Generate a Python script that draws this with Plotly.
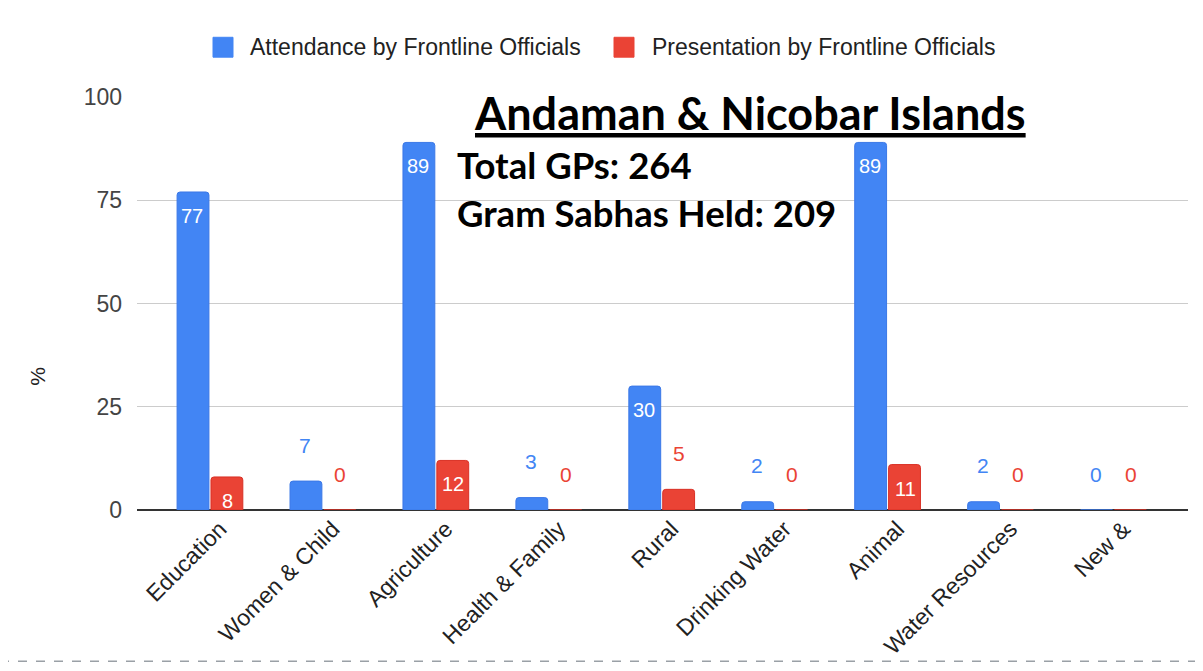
import plotly.graph_objects as go

categories = ["Education", "Women & Child", "Agriculture", "Health & Family", "Rural",
              "Drinking Water", "Animal", "Water Resources", "New &"]
attendance = [77, 7, 89, 3, 30, 2, 89, 2, 0]
presentation = [8, 0, 12, 0, 5, 0, 11, 0, 0]
series_names = ["Attendance by Frontline Officials", "Presentation by Frontline Officials"]
y_ticks = [0, 25, 50, 75, 100]
title_text = "Andaman & Nicobar Islands"
info_lines = ["Total GPs: 264", "Gram Sabhas Held: 209"]

BLUE = "#4285F4"
RED = "#EA4335"
FONT = "Liberation Sans, Arial, sans-serif"
OFF = 8  # page body margin
W, H = 1203 - OFF, 671 - OFF
ML, MT = 137 - OFF, 97 - OFF
PW, PH = 1051, 415
MR = W - ML - PW
MB = H - MT - PH


def px(xp):  # page x -> paper x
    return (xp - OFF - ML) / PW


def py(yp):  # page y -> paper y
    return (MT + PH - (yp - OFF)) / PH


fig = go.Figure()
fig.add_trace(go.Bar(x=categories, y=attendance, name=series_names[0],
                     marker=dict(color=BLUE, line=dict(color="#3b78e7", width=1), cornerradius=3)))
fig.add_trace(go.Bar(x=categories, y=presentation, name=series_names[1],
                     marker=dict(color=RED, line=dict(color="#d93025", width=1), cornerradius=3)))

annotations = []
for vals, color, shift in [(attendance, BLUE, -17.5), (presentation, RED, 17.5)]:
    for c, v in zip(categories, vals):
        if v >= 8:
            annotations.append(dict(x=c, y=v, xref="x", yref="y", text=str(v), showarrow=False,
                                    xshift=shift, yshift=-24,
                                    font=dict(family=FONT, size=20, color="white")))
        else:
            annotations.append(dict(x=c, y=v, xref="x", yref="y", text=str(v), showarrow=False,
                                    xshift=shift, yshift=36,
                                    font=dict(family=FONT, size=21, color=color)))

annotations.append(dict(x=px(472), y=py(113), xref="paper", yref="paper",
                        xanchor="left", yanchor="middle", showarrow=False,
                        text="<b><u>" + title_text + "</u></b>",
                        font=dict(family="Lato, sans-serif", size=45, color="black")))
for line, ypx in zip(info_lines, [165, 214]):
    annotations.append(dict(x=px(455), y=py(ypx), xref="paper", yref="paper",
                            xanchor="left", yanchor="middle", showarrow=False,
                            text="<b>" + line + "</b>",
                            font=dict(family="Lato, sans-serif", size=36.5, color="black")))

# y axis title
annotations.append(dict(x=px(38), y=py(378), xref="paper", yref="paper", textangle=-90,
                        xanchor="center", yanchor="middle", showarrow=False, text="%",
                        font=dict(family=FONT, size=21, color="#222")))

# custom legend
shapes = []
for name, color, sx, tx in [(series_names[0], BLUE, 213, 248), (series_names[1], RED, 614, 650)]:
    shapes.append(dict(type="rect", xref="paper", yref="paper",
                       x0=px(sx), x1=px(sx + 20), y0=py(57), y1=py(37),
                       fillcolor=color, line=dict(color=color, width=1)))
    annotations.append(dict(x=px(tx), y=py(47), xref="paper", yref="paper",
                            xanchor="left", yanchor="middle", showarrow=False, text=name,
                            font=dict(family=FONT, size=23, color="#222")))

shapes.append(dict(type="line", xref="paper", yref="paper",
                   x0=px(0), x1=px(1203), y0=py(664), y1=py(664),
                   line=dict(color="#9aa0a6", width=1.5, dash="dash")))

fig.update_layout(
    width=W, height=H,
    margin=dict(l=ML, r=MR, t=MT, b=MB),
    paper_bgcolor="white", plot_bgcolor="white",
    barmode="group", bargap=0.4, bargroupgap=0.06,
    font=dict(family=FONT, color="#222"),
    showlegend=False,
    annotations=annotations,
    shapes=shapes,
)
fig.update_xaxes(range=[-0.646, 8.66], showgrid=False, ticks="", tickangle=-45,
                 tickfont=dict(family=FONT, size=23, color="#222"), showline=False,
                 ticklabelshift=10)
fig.update_yaxes(range=[0, 100], tickvals=y_ticks, showgrid=True, gridcolor="#cccccc",
                 zeroline=True, zerolinecolor="#333333", zerolinewidth=2,
                 tickfont=dict(family=FONT, size=23, color="#444"), ticklabelstandoff=14)

fig.write_html("out.html")
